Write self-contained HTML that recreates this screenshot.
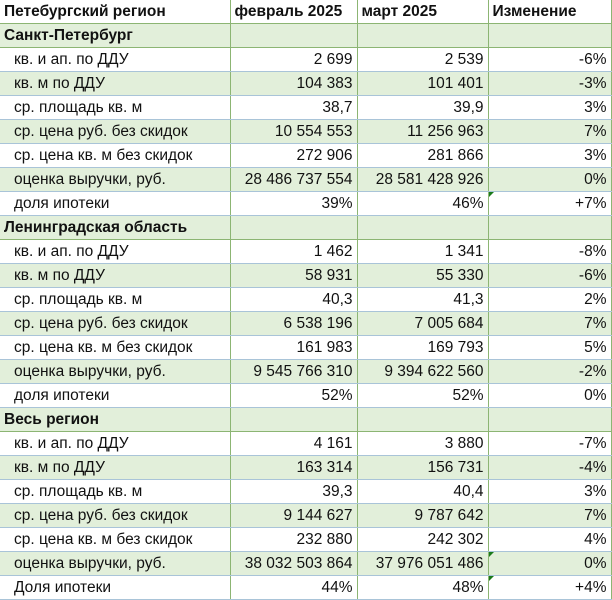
<!DOCTYPE html>
<html><head><meta charset="utf-8"><style>
body{margin:0;background:#fff;}
table{border-collapse:collapse;position:absolute;left:0;top:0;width:611px;table-layout:fixed;font-family:"Liberation Sans",sans-serif;font-size:15.5px;color:#111;}
td{height:23px;padding:0 4px;border-right:1px solid #8cb573;border-bottom:1px solid #a9c4d8;white-space:nowrap;overflow:hidden;line-height:23px;}
tr:nth-child(odd) td{background:#fff;}
tr:nth-child(even) td{background:#e2efda;}
tr.h td{font-weight:bold;border-bottom:1px solid #8cb573;}
td.n{text-align:right;}
td.l{padding-left:14px;}
td.m{position:relative;}
td.m::before{content:"";position:absolute;left:0;top:0;border-top:5px solid #1a7a1a;border-right:5px solid transparent;}
</style></head><body>
<table>
<colgroup><col style="width:230px"><col style="width:127px"><col style="width:131px"><col style="width:123px"></colgroup>
<tr class="h"><td>Петебургский регион</td><td>февраль 2025</td><td>март 2025</td><td>Изменение</td></tr>
<tr class="h"><td>Санкт-Петербург</td><td></td><td></td><td></td></tr>
<tr><td class="l">кв. и ап. по ДДУ</td><td class="n">2 699</td><td class="n">2 539</td><td class="n">-6%</td></tr>
<tr><td class="l">кв. м по ДДУ</td><td class="n">104 383</td><td class="n">101 401</td><td class="n">-3%</td></tr>
<tr><td class="l">ср. площадь кв. м</td><td class="n">38,7</td><td class="n">39,9</td><td class="n">3%</td></tr>
<tr><td class="l">ср. цена руб. без скидок</td><td class="n">10 554 553</td><td class="n">11 256 963</td><td class="n">7%</td></tr>
<tr><td class="l">ср. цена кв. м без скидок</td><td class="n">272 906</td><td class="n">281 866</td><td class="n">3%</td></tr>
<tr><td class="l">оценка выручки, руб.</td><td class="n">28 486 737 554</td><td class="n">28 581 428 926</td><td class="n">0%</td></tr>
<tr><td class="l">доля ипотеки</td><td class="n">39%</td><td class="n">46%</td><td class="n m">+7%</td></tr>
<tr class="h"><td>Ленинградская область</td><td></td><td></td><td></td></tr>
<tr><td class="l">кв. и ап. по ДДУ</td><td class="n">1 462</td><td class="n">1 341</td><td class="n">-8%</td></tr>
<tr><td class="l">кв. м по ДДУ</td><td class="n">58 931</td><td class="n">55 330</td><td class="n">-6%</td></tr>
<tr><td class="l">ср. площадь кв. м</td><td class="n">40,3</td><td class="n">41,3</td><td class="n">2%</td></tr>
<tr><td class="l">ср. цена руб. без скидок</td><td class="n">6 538 196</td><td class="n">7 005 684</td><td class="n">7%</td></tr>
<tr><td class="l">ср. цена кв. м без скидок</td><td class="n">161 983</td><td class="n">169 793</td><td class="n">5%</td></tr>
<tr><td class="l">оценка выручки, руб.</td><td class="n">9 545 766 310</td><td class="n">9 394 622 560</td><td class="n">-2%</td></tr>
<tr><td class="l">доля ипотеки</td><td class="n">52%</td><td class="n">52%</td><td class="n">0%</td></tr>
<tr class="h"><td>Весь регион</td><td></td><td></td><td></td></tr>
<tr><td class="l">кв. и ап. по ДДУ</td><td class="n">4 161</td><td class="n">3 880</td><td class="n">-7%</td></tr>
<tr><td class="l">кв. м по ДДУ</td><td class="n">163 314</td><td class="n">156 731</td><td class="n">-4%</td></tr>
<tr><td class="l">ср. площадь кв. м</td><td class="n">39,3</td><td class="n">40,4</td><td class="n">3%</td></tr>
<tr><td class="l">ср. цена руб. без скидок</td><td class="n">9 144 627</td><td class="n">9 787 642</td><td class="n">7%</td></tr>
<tr><td class="l">ср. цена кв. м без скидок</td><td class="n">232 880</td><td class="n">242 302</td><td class="n">4%</td></tr>
<tr><td class="l">оценка выручки, руб.</td><td class="n">38 032 503 864</td><td class="n">37 976 051 486</td><td class="n m">0%</td></tr>
<tr><td class="l">Доля ипотеки</td><td class="n">44%</td><td class="n">48%</td><td class="n m">+4%</td></tr>
</table>
</body></html>
